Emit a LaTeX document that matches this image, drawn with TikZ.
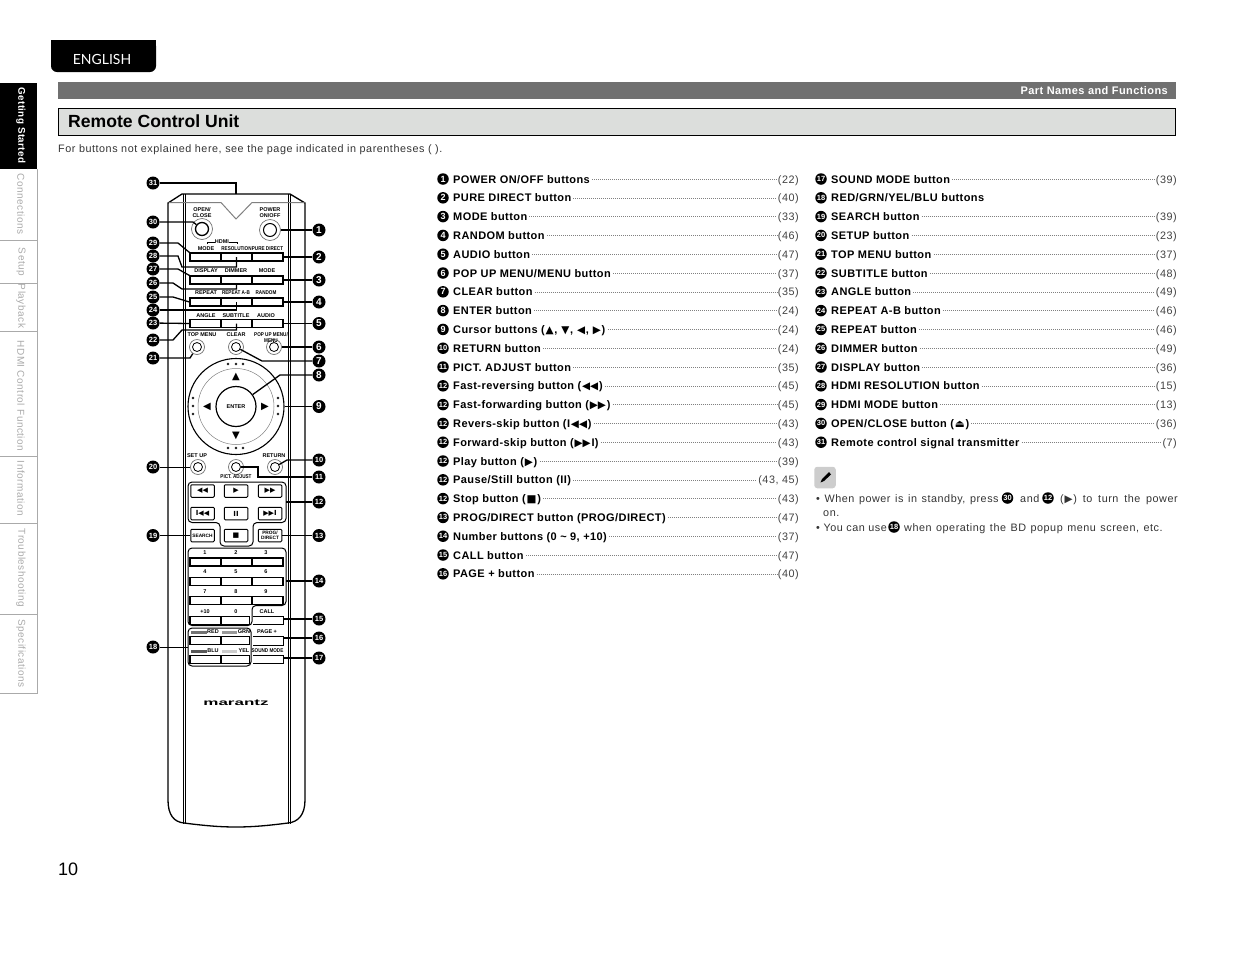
\documentclass[tikz,border=0pt]{standalone}
\usepackage{fontspec}
\usepackage{tikz}
\usetikzlibrary{arrows.meta,positioning,calc}
\setmainfont{Liberation Sans}
\newfontfamily\bodyfont[LetterSpace=5]{Liberation Sans}
\newfontfamily\itemfont[LetterSpace=3.8]{Liberation Sans}
\newfontfamily\tabfont{Lato}
\newfontfamily\symfont{DejaVu Sans}
\definecolor{barcol}{RGB}{112,112,112}
\definecolor{titlecol}{RGB}{220,222,220}
\definecolor{tabcol}{RGB}{170,170,170}
\definecolor{notecol}{RGB}{205,205,205}
\newcommand{\sy}[1]{\kern.8pt{\symfont\fontsize{10.5}{9}\selectfont #1}\kern.8pt}
\newcommand{\cn}[1]{\ifnum#1>9 {\fontsize{7.5}{7.5}\selectfont #1}\else #1\fi}
\tikzset{
  % circled number
  cnum/.style={circle, fill=black, text=white, inner sep=0pt, minimum size=13pt,
               font=\bfseries\fontsize{10}{10}\selectfont},
  % small circled number of the list
  lnum/.style={cnum, minimum size=11.5pt, font=\bfseries\fontsize{9}{9}\selectfont},
  % list item
  item/.style={anchor=west, inner sep=0pt, text height=9pt, text depth=1pt,
               font=\itemfont\bfseries\fontsize{11}{13}\selectfont},
  % page reference
  pageref/.style={anchor=east, inner sep=0pt, text height=9pt, text depth=1pt, text=black!75,
               font=\bodyfont\fontsize{10.8}{13}\selectfont},
  % running text
  bodytext/.style={anchor=west, inner sep=0pt, text height=9pt, text depth=1pt, text=black!80,
               font=\bodyfont\fontsize{10.8}{13}\selectfont},
  % leader dots
  leader/.style={dash pattern=on 0.7pt off 1.3pt, line width=0.6pt, black!50},
  % side tab
  sidetab/.style={rotate=-90, inner sep=0pt, text=tabcol, font=\bodyfont\fontsize{10}{10}\selectfont},
  % label printed on the remote
  rlabel/.style={inner sep=0pt, align=center, font=\bfseries\fontsize{5.5}{6}\selectfont},
  % condensed label
  rlabelc/.style={rlabel, xscale=0.84, transform shape},
  % row button
  rowbtn/.style={rectangle, draw, fill=white, line width=1.1pt, minimum width=31pt, minimum height=8pt, inner sep=0pt},
  % short row button
  colbtn/.style={rowbtn, minimum width=28.5pt},
  % open button on the right of the remote
  openbtn/.style={rectangle, minimum width=30pt, minimum height=8pt, inner sep=0pt},
  % transport button
  tbtn/.style={rectangle, rounded corners=1pt, draw, fill=white, line width=1pt, minimum width=23.5pt,
               minimum height=12.5pt, inner sep=0pt, align=center, font=\bfseries\fontsize{4.8}{5}\selectfont},
  % round button, outer and inner ring
  rbtn/.style={circle, draw=black!55, line width=0.7pt, minimum size=15pt, inner sep=0pt},
  rin/.style={circle, draw=black, line width=0.8pt, minimum size=9pt, inner sep=0pt},
  % callout line
  callout/.style={line width=1.3pt, line join=miter},
  % button group outline
  grp/.style={line width=1pt, rounded corners=4pt},
}
\begin{document}
\begin{tikzpicture}[x=1pt,y=-1pt]
  \useasboundingbox (0,0) rectangle (1235,954);
  % header
  \path[fill=black, rounded corners=6pt] (51,40) -- (51,72) -- (156,72) -- (156,40) -- cycle;
  \fill[black] (51,40) rectangle (156,50);
  \node[text=white, inner sep=0pt, font=\tabfont\fontsize{14}{14}\selectfont] (lang) at (102,59) {ENGLISH};
  \fill[barcol] (58,82) rectangle (1176,99);
  \node[anchor=east, text=white, inner sep=0pt, font=\itemfont\bfseries\fontsize{11}{11}\selectfont] (running) at (1168,90.5) {Part Names and Functions};
  \draw[fill=titlecol, line width=1.2pt] (58.5,108.5) rectangle (1175.5,135.5);
  \node[anchor=west, inner sep=0pt, font=\bfseries\fontsize{17.6}{17.6}\selectfont] (title) at (68,121.5) {Remote Control Unit};
  \node[bodytext] (intro) at (58,148) {For buttons not explained here, see the page indicated in parentheses ( ).};
  \node[anchor=west, inner sep=0pt, font=\fontsize{18}{18}\selectfont] (pageno) at (58,869.5) {10};
  % side tabs
  \fill[black] (0,83) rectangle (37,169);
  \node[sidetab, text=white, font=\itemfont\bfseries\fontsize{9.8}{9.8}\selectfont] (t0) at (21,125.5) {Getting Started};
  \draw[tabcol, line width=0.8pt] (37,169) -- (37,693.5) -- (0,693.5);
  \foreach \y in {240,283,331,456,523,614} \draw[tabcol, line width=0.8pt] (0,\y) -- (37,\y);
  \foreach \txt/\y [count=\k] in {Connections/204,Setup/262,Playback/306,HDMI Control Function/396,Information/488.5,Troubleshooting/568,Specifications/653.5}
    \node[sidetab] (t\k) at (21,\y) {\txt};

  % remote body
  \draw[line width=1.3pt] (168,203) -- (182,194) -- (290,194) -- (305,203) -- (305,800)
    .. controls (305,815) and (298,822) .. (288,823) .. controls (265,826) and (250,827) .. (236,827)
    .. controls (222,827) and (207,826) .. (184,823) .. controls (174,822) and (168,815) .. (168,800) -- cycle;
  \foreach \x in {183,185.5,288,290.5} \draw[line width=0.8pt] (\x,194) -- (\x,823.5);
  \draw[black!50, line width=1pt] (168.5,202.5) -- (221,202.5) -- (236,219) -- (252,202.5) -- (304.5,202.5);

  % round buttons
  \foreach \name/\x/\y in {top/197/347,clr/236/347,pop/274/347,setup/198/467,pict/236/467,ret/275/467} {
    \node[rbtn] (\name) at (\x,\y) {};
    \node[rin] (\name i) at (\x,\y) {};
  }
  \node[rbtn, minimum size=21pt] (open) at (202,229) {};
  \node[rin, minimum size=13pt, line width=1.3pt] (openi) at (202,229) {};
  \node[rbtn, minimum size=21pt] (power) at (270,230) {};
  \node[rin, minimum size=13pt, line width=1pt] (poweri) at (270,230) {};

  % button rows
  \foreach \row/\y in {a/257,b/280,c/302,d/323.5}
    \foreach \col/\x in {l/205.5,m/236.5,r/267.5}
      \node[rowbtn] (\row\col) at (\x,\y) {};
  \foreach \row/\y in {e/562,f/581.5,g/600.5}
    \foreach \col/\x in {l/205.5,m/236.5,r/267.5}
      \node[rowbtn] (\row\col) at (\x,\y) {};
  \foreach \row/\y in {h/620.5,i/640.5,j/659.5} {
    \node[rowbtn] (\row l) at (205.5,\y) {};
    \node[colbtn] (\row m) at (235.25,\y) {};
  }
  % right hand buttons, open on the left
  \foreach \name/\y in {call/620.5,page/641,sound/659.5} {
    \node[openbtn] (\name) at (268,\y) {};
    \draw[line width=1.1pt] (\name.north west) -- (\name.north east) -- (\name.south east) -- (\name.south west);
  }

  % printed labels
  \foreach \txt/\x/\y [count=\k] in {{OPEN/\\CLOSE}/202/213,{POWER\\ON/OFF}/270/213,MODE/206/249,
      DISPLAY/206/271,DIMMER/236/271,MODE/267/271,REPEAT/206/293,
      ANGLE/206/316,SUBTITLE/236/316,AUDIO/266/316,TOP MENU/202/335,CLEAR/236/335,
      SET UP/197/456,RETURN/274/456,1/205/553,2/236/553,3/266/553,4/205/572,5/236/572,6/266/572,
      7/205/592,8/236/592,9/266/592,+10/205/612,0/236/612,CALL/267/612,PAGE +/267/632,
      RED/213/632,GRN/244/632,BLU/213/651,YEL/244/651}
    \node[rlabel] (lab\k) at (\x,\y) {\txt};
  \foreach \txt/\x/\y [count=\k] in {RESOLUTION/236.5/249,PURE DIRECT/267.5/249,REPEAT A-B/236/293,RANDOM/266/293,
      {POP UP MENU/\\MENU}/271/338,PICT. ADJUST/236/477,SOUND MODE/267.5/651}
    \node[rlabelc] (labc\k) at (\x,\y) {\txt};
  \node[rlabel] (hdmi) at (222,242) {HDMI};
  \draw[line width=0.6pt] (207,244) -- (207,242) -- (hdmi.west);
  \draw[line width=0.6pt] (hdmi.east) -- (237,242) -- (237,244);
  \fill[black!55] (191,630.5) rectangle (207,633.5);
  \fill[black!40] (222,630.5) rectangle (237,633.5);
  \fill[black!65] (191,649.5) rectangle (207,652.5);
  \fill[black!20] (222,649.5) rectangle (237,652.5);

  % cursor ring
  \node[circle, draw, line width=1.1pt, minimum size=96pt, inner sep=0pt] (ring) at (236,406.5) {};
  \node[circle, draw=black!50, line width=0.5pt, minimum size=76pt, inner sep=0pt] (ringin) at (236,406.5) {};
  \node[circle, draw, fill=white, line width=1.2pt, minimum size=40pt, inner sep=0pt, font=\bfseries\fontsize{5.5}{6}\selectfont] (enter) at (236,406.5) {ENTER};
  \foreach \sym/\x/\y [count=\k] in {▲/236/377,▼/236/436,◀/207/406.5,▶/265/406.5}
    \node[inner sep=0pt, font=\symfont\fontsize{10}{10}\selectfont] (cur\k) at (\x,\y) {\sym};
  \foreach \x/\y in {228/364,236/364,243/364,228/448,236/448,243/448,193/398,193/406,193/414,278/398,278/406,278/414}
    \draw[line width=0.4pt] (\x,\y) circle (1pt);

  % transport group
  \draw[grp] (188,482) -- (286,482) -- (286,522.5) -- (253,522.5) -- (253,546) -- (220,546) -- (220,522.5) -- (188,522.5) -- cycle;
  \foreach \name/\sym/\x/\y in {rew/◀◀/202.5/491,play/▶/236/491,fwd/▶▶/270/491,prev/I◀◀/202.5/513.5,paus/II/236/513.5,next/▶▶I/270/513.5,stop/■/236/535.5}
    \node[tbtn, font=\symfont\bfseries\fontsize{7}{7}\selectfont] (\name) at (\x,\y) {\sym};
  \node[tbtn] (search) at (202.5,535.5) {SEARCH};
  \node[tbtn] (prog) at (270,535.5) {PROG/\\DIRECT};
  % number and colour groups
  \draw[grp] (188,548) -- (286,548) -- (286,605.5) -- (252,605.5) -- (252,625.5) -- (188,625.5) -- cycle;
  \draw[grp] (188,628) -- (251,628) -- (251,666) -- (188,666) -- cycle;
  \coordinate (tgrp) at (286,502);
  \coordinate (numgrp) at (286,581);
  \coordinate (colgrp) at (188,647);
  \node[inner sep=0pt, xscale=2, transform shape, font=\bfseries\fontsize{8.5}{9}\selectfont] (brand) at (236,703) {marantz};

  % callout numbers
  \foreach \n/\y in {1/230,2/257,3/280,4/302,5/323.5,6/347,7/361,8/375,9/406.5,10/460,11/477,12/502,13/535.5,14/581,15/619,16/638,17/658}
    \node[cnum] (n\n) at (319,\y) {\cn{\n}};
  \foreach \n/\y in {18/647,19/535.5,20/467,21/358,22/340,23/323,24/310,25/297,26/283,27/269,28/256,29/243,30/222,31/183}
    \node[cnum] (n\n) at (153,\y) {\cn{\n}};
  % callout lines
  \draw[callout] (n1) -- (power);
  \draw[callout] (n2) -- (ar.east);
  \draw[callout] (n3) -- (br.east);
  \draw[callout] (n4) -- (cr.east);
  \draw[callout] (n5) -- (dr.east);
  \draw[callout] (n6) -- (pop);
  \draw[callout] (clri) -- (262,361) -- (n7);
  \draw[callout] (n8) -- (280,375) -- (enter);
  \draw[callout] (n9) -- (ring.east);
  \draw[callout] (n10) -- (287,460) -- (reti);
  \draw[callout] (picti) -- (258,467) -- (258,477) -- (n11);
  \draw[callout] (n12) -- (tgrp);
  \draw[callout] (n13) -- (prog);
  \draw[callout] (n14) -- (numgrp);
  \draw[callout] (n15) -- (n15 -| call.east);
  \draw[callout] (n16) -- (n16 -| page.east);
  \draw[callout] (n17) -- (n17 -| sound.east);
  \draw[callout, line width=1pt] (n18) -- (colgrp);
  \draw[callout] (n19) -- (search);
  \draw[callout, line width=1pt] (n20) -- (setup);
  \draw[callout] (n21) -- (190,358) -- (top);
  \draw[callout] (n22) -- (173,340) -- (182,330) -- (236.5,330) -- (dm.center);
  \draw[callout] (n23) -- (dl.west);
  \draw[callout] (n24) -- (236.5,310) -- (cm.center);
  \draw[callout] (n25) -- (173,297) -- (cl.west);
  \draw[callout] (n26) -- (173,283) -- (182,289) -- (236.5,289) -- (bm.south);
  \draw[callout] (n27) -- (178,269) -- (bl.north west);
  \draw[callout] (n28) -- (178,256) -- (182,267) -- (236.5,267) -- (am.center);
  \draw[callout] (n29) -- (178,243) -- (al.north west);
  \draw[callout] (n30) -- (193,222) -- (openi);
  \draw[callout] (n31) -- (236,183) -- (236,194);

  % parts list, first column
  \foreach \n/\txt/\pg [count=\k] in {1/{POWER ON/OFF buttons}/22,2/PURE DIRECT button/40,3/MODE button/33,4/RANDOM button/46,5/AUDIO button/47,
      6/{POP UP MENU/MENU button}/37,7/CLEAR button/35,8/ENTER button/24,9/{Cursor buttons (\sy{▲},\kern3pt \sy{▼},\kern3pt \sy{◀},\kern3pt \sy{▶})}/24,10/RETURN button/24,
      11/PICT. ADJUST button/35,12/{Fast-reversing button (\sy{◀◀})}/45,12/{Fast-forwarding button (\sy{▶▶})}/45,12/{Revers-skip button (I\sy{◀◀})}/43,
      12/{Forward-skip button (\sy{▶▶}I)}/43,12/{Play button (\sy{▶})}/39,12/{Pause/Still button (II)}/{43, 45},12/{Stop button (\sy{■})}/43,
      13/{PROG/DIRECT button (PROG/DIRECT)}/47,14/{Number buttons (0 \textasciitilde{} 9, +10)}/37,15/CALL button/47,16/PAGE + button/40} {
    \pgfmathsetmacro\yy{179+(\k-1)*18.8}
    \node[lnum] (a\k) at (443,\yy) {\cn{\n}};
    \node[item] (b\k) at (453,\yy) {\txt};
    \node[pageref] (c\k) at (799,\yy) {(\pg)};
    \draw[leader] ($(b\k.east)+(2,0)$) -- ($(c\k.west)+(-1,0)$);
  }
  % parts list, second column
  \foreach \n/\txt/\pg [count=\k] in {17/SOUND MODE button/39,19/SEARCH button/39,20/SETUP button/23,21/TOP MENU button/37,22/SUBTITLE button/48,
      23/ANGLE button/49,24/REPEAT A-B button/46,25/REPEAT button/46,26/DIMMER button/49,27/DISPLAY button/36,28/HDMI RESOLUTION button/15,
      29/HDMI MODE button/13,30/{OPEN/CLOSE button (\sy{⏏})}/36,31/Remote control signal transmitter/7} {
    \pgfmathsetmacro\yy{179+(\k-1)*18.8+(\k>1 ? 18.8 : 0)}
    \node[lnum] (d\k) at (821,\yy) {\cn{\n}};
    \node[item] (e\k) at (831,\yy) {\txt};
    \node[pageref] (f\k) at (1177,\yy) {(\pg)};
    \draw[leader] ($(e\k.east)+(2,0)$) -- ($(f\k.west)+(-1,0)$);
  }
  \node[lnum] (d0) at (821,197.8) {\cn{18}};
  \node[item] (e0) at (831,197.8) {RED/GRN/YEL/BLU buttons};

  % note
  \node[fill=notecol, rounded corners=3pt, minimum size=21.5pt, inner sep=0pt] (pencil) at (825,477.5) {};
  \fill[black] (829,472) -- (831,474.5) -- (824,481) -- (820.5,482.5) -- (822,479) -- cycle;
  \node[bodytext] (n1a) at (816,498) {\spaceskip=4.6pt • When power is in standby, press};
  \node[lnum] (n1b) at (1007.5,498) {\cn{30}};
  \node[bodytext] (n1c) at (1020,498) {and};
  \node[lnum] (n1d) at (1048,498) {\cn{12}};
  \node[bodytext] (n1e) at (1060,498) {\spaceskip=5.8pt (\sy{▶}) to turn the power};
  \node[bodytext] (n2a) at (823,512.5) {on.};
  \node[bodytext] (n3a) at (816,527) {• You can use};
  \node[lnum] (n3b) at (894,527) {\cn{18}};
  \node[bodytext] (n3c) at (904,527) {\spaceskip=4.5pt when operating the BD popup menu screen, etc.};
\end{tikzpicture}
\end{document}
